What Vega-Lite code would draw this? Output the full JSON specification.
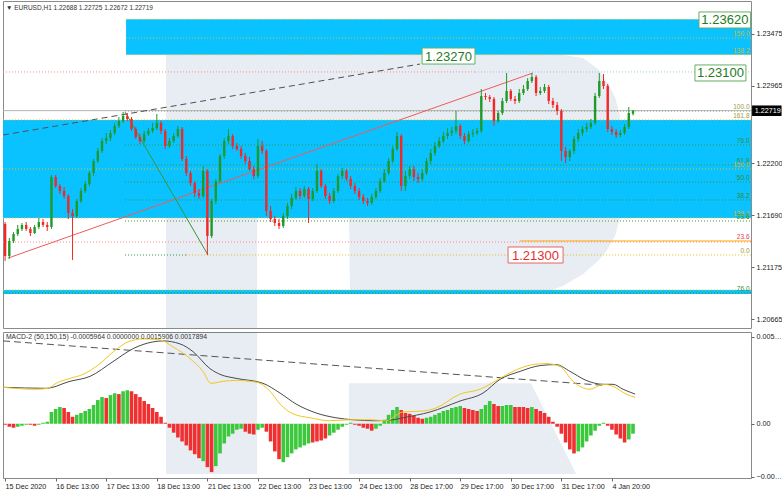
{
"$schema":"https://vega.github.io/schema/vega-lite/v6.json",
"background":"#ffffff",
"padding":0,
"spacing":2,
"config":{"scale":{"continuousPadding":0},"view":{"stroke":"#8a8a8a","strokeWidth":1},"axis":{"labelFont":"Liberation Sans, Roboto, Arial, sans-serif","labelFontSize":7.2,"labelColor":"#1a1a1a","tickColor":"#666666","domain":false,"grid":false},"text":{"font":"Liberation Sans, Roboto, Arial, sans-serif"}},
"datasets":{
"bands":[{"t0":58.4,"t1":355,"p0":1.2327,"p1":1.2362},{"t0":0,"t1":355,"p0":1.21662,"p1":1.22627},{"t0":0,"t1":355,"p0":1.20913,"p1":1.20952}],
"wmStem":[{"t0":77.4,"t1":120.6,"p0":1.20578,"p1":1.23267}],
"wmBowl":[{"t":120.6,"a":1.23267,"b":1.21662},{"t":164.2,"a":1.23267,"b":1.21662},{"t":164.7,"a":1.23267,"b":1.20923},{"t":256.3,"a":1.23267,"b":1.20923},{"t":265.8,"a":1.23267,"b":1.20992},{"t":275.3,"a":1.23238,"b":1.2111},{"t":282.4,"a":1.23129,"b":1.21238},{"t":287.1,"a":1.22991,"b":1.21356},{"t":290.5,"a":1.22853,"b":1.21484},{"t":292.8,"a":1.22666,"b":1.21662},{"t":293.8,"a":1.22223,"b":1.22125}],
"dots":[{"t0":58.4,"t1":355,"p":1.2362,"k":"y"},{"t0":58.4,"t1":355,"p":1.23435,"k":"y"},{"t0":58.4,"t1":355,"p":1.2327,"k":"y"},{"t0":0,"t1":355,"p":1.22627,"k":"y"},{"t0":0,"t1":355,"p":1.22144,"k":"y"},{"t0":0,"t1":355,"p":1.21662,"k":"y"},{"t0":86.9,"t1":355,"p":1.21297,"k":"y"},{"t0":0,"t1":355,"p":1.20952,"k":"y"},{"t0":57.9,"t1":355,"p":1.22716,"k":"g"},{"t0":57.9,"t1":355,"p":1.22381,"k":"g"},{"t0":57.9,"t1":355,"p":1.22184,"k":"g"},{"t0":57.9,"t1":355,"p":1.22016,"k":"g"},{"t0":57.9,"t1":355,"p":1.21839,"k":"g"},{"t0":57.9,"t1":355,"p":1.21632,"k":"g"},{"t0":57.9,"t1":86.9,"p":1.21297,"k":"g"},{"t0":0,"t1":355,"p":1.20923,"k":"g"},{"t0":0,"t1":224,"p":1.231,"k":"p"},{"t0":0,"t1":355,"p":1.21425,"k":"p"},{"t0":224,"t1":355,"p":1.231,"k":"b"}],
"solid":[{"t0":0,"t1":355,"p":1.22719,"k":"bid"},{"t0":245.4,"t1":355,"p":1.21435,"k":"or"}],
"trends":[{"t0":2.4,"p0":1.21267,"t1":251.5,"p1":1.2309,"k":"r"},{"t0":57.9,"p0":1.22706,"t1":97.3,"p1":1.21297,"k":"g"}],
"dashTrend":[{"t0":0,"p0":1.22479,"t1":197.9,"p1":1.23178}],
"candles":[
{"t":1,"o":1.21603,"h":1.21622,"l":1.21238,"c":1.21287},
{"t":3,"o":1.21287,"h":1.21465,"l":1.21258,"c":1.21435},
{"t":5,"o":1.21435,"h":1.21524,"l":1.21415,"c":1.21504},
{"t":7,"o":1.21504,"h":1.21593,"l":1.21484,"c":1.21553},
{"t":9,"o":1.21553,"h":1.21612,"l":1.21534,"c":1.21593},
{"t":11,"o":1.21593,"h":1.21622,"l":1.21534,"c":1.21553},
{"t":13,"o":1.21553,"h":1.21573,"l":1.21484,"c":1.21514},
{"t":15,"o":1.21514,"h":1.21593,"l":1.21504,"c":1.21573},
{"t":17,"o":1.21573,"h":1.21662,"l":1.21553,"c":1.21622},
{"t":19,"o":1.21622,"h":1.21652,"l":1.21573,"c":1.21593},
{"t":21,"o":1.21593,"h":1.21622,"l":1.21534,"c":1.21573},
{"t":23,"o":1.21573,"h":1.22085,"l":1.21553,"c":1.22065},
{"t":25,"o":1.22065,"h":1.22085,"l":1.21957,"c":1.21977},
{"t":27,"o":1.21977,"h":1.21996,"l":1.21898,"c":1.21928},
{"t":29,"o":1.21928,"h":1.21967,"l":1.21849,"c":1.21878},
{"t":31,"o":1.21878,"h":1.21898,"l":1.21652,"c":1.21711},
{"t":33,"o":1.21711,"h":1.2175,"l":1.21248,"c":1.21681},
{"t":35,"o":1.21681,"h":1.21849,"l":1.21662,"c":1.21829},
{"t":37,"o":1.21829,"h":1.21957,"l":1.21809,"c":1.21928},
{"t":39,"o":1.21928,"h":1.22026,"l":1.21908,"c":1.21996},
{"t":41,"o":1.21996,"h":1.22125,"l":1.21977,"c":1.22105},
{"t":43,"o":1.22105,"h":1.22243,"l":1.22075,"c":1.22223},
{"t":45,"o":1.22223,"h":1.22351,"l":1.22203,"c":1.22322},
{"t":47,"o":1.22322,"h":1.22449,"l":1.22302,"c":1.2242},
{"t":49,"o":1.2242,"h":1.22499,"l":1.2239,"c":1.22449},
{"t":51,"o":1.22449,"h":1.22528,"l":1.2242,"c":1.22499},
{"t":53,"o":1.22499,"h":1.22597,"l":1.22479,"c":1.22568},
{"t":55,"o":1.22568,"h":1.22656,"l":1.22548,"c":1.22617},
{"t":57,"o":1.22617,"h":1.22706,"l":1.22597,"c":1.22666},
{"t":59,"o":1.22666,"h":1.22696,"l":1.22617,"c":1.22637},
{"t":61,"o":1.22637,"h":1.22656,"l":1.22519,"c":1.22538},
{"t":63,"o":1.22538,"h":1.22558,"l":1.2244,"c":1.22459},
{"t":65,"o":1.22459,"h":1.22489,"l":1.2239,"c":1.2242},
{"t":67,"o":1.2242,"h":1.22519,"l":1.224,"c":1.22489},
{"t":69,"o":1.22489,"h":1.22548,"l":1.22469,"c":1.22519},
{"t":71,"o":1.22519,"h":1.22597,"l":1.22499,"c":1.22548},
{"t":73,"o":1.22548,"h":1.22686,"l":1.22528,"c":1.22597},
{"t":75,"o":1.22597,"h":1.22617,"l":1.22489,"c":1.22519},
{"t":77,"o":1.22519,"h":1.22538,"l":1.22341,"c":1.22371},
{"t":79,"o":1.22371,"h":1.22449,"l":1.22351,"c":1.2242},
{"t":81,"o":1.2242,"h":1.22499,"l":1.224,"c":1.22469},
{"t":83,"o":1.22469,"h":1.22568,"l":1.22449,"c":1.22538},
{"t":85,"o":1.22538,"h":1.22558,"l":1.22223,"c":1.22243},
{"t":87,"o":1.22243,"h":1.22272,"l":1.22075,"c":1.22105},
{"t":89,"o":1.22105,"h":1.22125,"l":1.21977,"c":1.22006},
{"t":91,"o":1.22006,"h":1.22026,"l":1.21868,"c":1.21908},
{"t":93,"o":1.21908,"h":1.21947,"l":1.21849,"c":1.21878},
{"t":95,"o":1.21878,"h":1.22174,"l":1.21859,"c":1.22125},
{"t":97,"o":1.22125,"h":1.22144,"l":1.21297,"c":1.21484},
{"t":99,"o":1.21484,"h":1.21849,"l":1.21465,"c":1.21829},
{"t":101,"o":1.21829,"h":1.22046,"l":1.21799,"c":1.22026},
{"t":103,"o":1.22026,"h":1.22292,"l":1.22006,"c":1.22272},
{"t":105,"o":1.22272,"h":1.22449,"l":1.22243,"c":1.2242},
{"t":107,"o":1.2242,"h":1.22538,"l":1.2239,"c":1.22469},
{"t":109,"o":1.22469,"h":1.22489,"l":1.22341,"c":1.22371},
{"t":111,"o":1.22371,"h":1.224,"l":1.22322,"c":1.22341},
{"t":113,"o":1.22341,"h":1.22371,"l":1.22243,"c":1.22272},
{"t":115,"o":1.22272,"h":1.22302,"l":1.22193,"c":1.22223},
{"t":117,"o":1.22223,"h":1.22263,"l":1.22125,"c":1.22144},
{"t":119,"o":1.22144,"h":1.22174,"l":1.22046,"c":1.22075},
{"t":121,"o":1.22075,"h":1.2244,"l":1.22055,"c":1.22371},
{"t":123,"o":1.22371,"h":1.2242,"l":1.22292,"c":1.22322},
{"t":125,"o":1.22322,"h":1.22341,"l":1.21681,"c":1.21731},
{"t":127,"o":1.21731,"h":1.2178,"l":1.21622,"c":1.21652},
{"t":129,"o":1.21652,"h":1.21681,"l":1.21583,"c":1.21612},
{"t":131,"o":1.21612,"h":1.21652,"l":1.21553,"c":1.21583},
{"t":133,"o":1.21583,"h":1.21711,"l":1.21563,"c":1.21681},
{"t":135,"o":1.21681,"h":1.21809,"l":1.21652,"c":1.2178},
{"t":137,"o":1.2178,"h":1.21898,"l":1.2175,"c":1.21859},
{"t":139,"o":1.21859,"h":1.21967,"l":1.21839,"c":1.21928},
{"t":141,"o":1.21928,"h":1.21957,"l":1.21849,"c":1.21878},
{"t":143,"o":1.21878,"h":1.21977,"l":1.21859,"c":1.21947},
{"t":145,"o":1.21947,"h":1.21967,"l":1.21612,"c":1.21849},
{"t":147,"o":1.21849,"h":1.21957,"l":1.21829,"c":1.21928},
{"t":149,"o":1.21928,"h":1.22193,"l":1.21908,"c":1.22125},
{"t":151,"o":1.22125,"h":1.22144,"l":1.21957,"c":1.21977},
{"t":153,"o":1.21977,"h":1.21996,"l":1.21849,"c":1.21878},
{"t":155,"o":1.21878,"h":1.21908,"l":1.21799,"c":1.21829},
{"t":157,"o":1.21829,"h":1.21957,"l":1.21809,"c":1.21928},
{"t":159,"o":1.21928,"h":1.22095,"l":1.21908,"c":1.22075},
{"t":161,"o":1.22075,"h":1.22154,"l":1.22046,"c":1.22125},
{"t":163,"o":1.22125,"h":1.22144,"l":1.22026,"c":1.22046},
{"t":165,"o":1.22046,"h":1.22075,"l":1.21947,"c":1.21977},
{"t":167,"o":1.21977,"h":1.22006,"l":1.21898,"c":1.21928},
{"t":169,"o":1.21928,"h":1.21957,"l":1.21839,"c":1.21868},
{"t":171,"o":1.21868,"h":1.21898,"l":1.21799,"c":1.21829},
{"t":173,"o":1.21829,"h":1.21859,"l":1.2178,"c":1.21809},
{"t":175,"o":1.21809,"h":1.21898,"l":1.2179,"c":1.21868},
{"t":177,"o":1.21868,"h":1.21957,"l":1.21849,"c":1.21928},
{"t":179,"o":1.21928,"h":1.22055,"l":1.21908,"c":1.22026},
{"t":181,"o":1.22026,"h":1.22144,"l":1.22006,"c":1.22105},
{"t":183,"o":1.22105,"h":1.22253,"l":1.22085,"c":1.22223},
{"t":185,"o":1.22223,"h":1.22371,"l":1.22203,"c":1.22341},
{"t":187,"o":1.22341,"h":1.22509,"l":1.22322,"c":1.22469},
{"t":189,"o":1.22469,"h":1.22489,"l":1.21928,"c":1.21977},
{"t":191,"o":1.21977,"h":1.22125,"l":1.21928,"c":1.22075},
{"t":193,"o":1.22075,"h":1.22174,"l":1.22046,"c":1.22144},
{"t":195,"o":1.22144,"h":1.22174,"l":1.22026,"c":1.22065},
{"t":197,"o":1.22065,"h":1.22105,"l":1.22006,"c":1.22046},
{"t":199,"o":1.22046,"h":1.22144,"l":1.22026,"c":1.22105},
{"t":201,"o":1.22105,"h":1.22253,"l":1.22085,"c":1.22223},
{"t":203,"o":1.22223,"h":1.22341,"l":1.22193,"c":1.22302},
{"t":205,"o":1.22302,"h":1.2241,"l":1.22272,"c":1.22371},
{"t":207,"o":1.22371,"h":1.22459,"l":1.22351,"c":1.2242},
{"t":209,"o":1.2242,"h":1.22509,"l":1.224,"c":1.22469},
{"t":211,"o":1.22469,"h":1.22548,"l":1.2244,"c":1.22499},
{"t":213,"o":1.22499,"h":1.22558,"l":1.22469,"c":1.22519},
{"t":215,"o":1.22519,"h":1.22716,"l":1.22489,"c":1.22568},
{"t":217,"o":1.22568,"h":1.22588,"l":1.2244,"c":1.22469},
{"t":219,"o":1.22469,"h":1.22499,"l":1.2239,"c":1.2242},
{"t":221,"o":1.2242,"h":1.22519,"l":1.224,"c":1.22489},
{"t":223,"o":1.22489,"h":1.22538,"l":1.22459,"c":1.22499},
{"t":225,"o":1.22499,"h":1.22548,"l":1.22479,"c":1.22519},
{"t":227,"o":1.22519,"h":1.22932,"l":1.22499,"c":1.22863},
{"t":229,"o":1.22863,"h":1.22893,"l":1.22824,"c":1.22853},
{"t":231,"o":1.22853,"h":1.22873,"l":1.22804,"c":1.22834},
{"t":233,"o":1.22834,"h":1.22853,"l":1.22568,"c":1.22617},
{"t":235,"o":1.22617,"h":1.22716,"l":1.22597,"c":1.22696},
{"t":237,"o":1.22696,"h":1.22844,"l":1.22676,"c":1.22814},
{"t":239,"o":1.22814,"h":1.2309,"l":1.22794,"c":1.22913},
{"t":241,"o":1.22913,"h":1.22932,"l":1.22814,"c":1.22834},
{"t":243,"o":1.22834,"h":1.22863,"l":1.22784,"c":1.22814},
{"t":245,"o":1.22814,"h":1.22932,"l":1.22794,"c":1.22893},
{"t":247,"o":1.22893,"h":1.22972,"l":1.22873,"c":1.22932},
{"t":249,"o":1.22932,"h":1.2304,"l":1.22913,"c":1.23011},
{"t":251,"o":1.23011,"h":1.2309,"l":1.22991,"c":1.2305},
{"t":253,"o":1.2305,"h":1.2307,"l":1.22863,"c":1.22893},
{"t":255,"o":1.22893,"h":1.22952,"l":1.22873,"c":1.22913},
{"t":257,"o":1.22913,"h":1.22982,"l":1.22893,"c":1.22952},
{"t":259,"o":1.22952,"h":1.22972,"l":1.22784,"c":1.22814},
{"t":261,"o":1.22814,"h":1.22844,"l":1.22745,"c":1.22775},
{"t":263,"o":1.22775,"h":1.22804,"l":1.22676,"c":1.22716},
{"t":265,"o":1.22716,"h":1.22735,"l":1.22223,"c":1.22322},
{"t":267,"o":1.22322,"h":1.22361,"l":1.22203,"c":1.22263},
{"t":269,"o":1.22263,"h":1.22341,"l":1.22223,"c":1.22322},
{"t":271,"o":1.22322,"h":1.22469,"l":1.22292,"c":1.2244},
{"t":273,"o":1.2244,"h":1.22538,"l":1.2241,"c":1.22499},
{"t":275,"o":1.22499,"h":1.22568,"l":1.22469,"c":1.22538},
{"t":277,"o":1.22538,"h":1.22597,"l":1.22509,"c":1.22558},
{"t":279,"o":1.22558,"h":1.22637,"l":1.22538,"c":1.22597},
{"t":281,"o":1.22597,"h":1.22893,"l":1.22578,"c":1.22863},
{"t":283,"o":1.22863,"h":1.2309,"l":1.22844,"c":1.23011},
{"t":285,"o":1.23011,"h":1.2308,"l":1.22932,"c":1.22962},
{"t":287,"o":1.22962,"h":1.22982,"l":1.22509,"c":1.22538},
{"t":289,"o":1.22538,"h":1.22568,"l":1.22479,"c":1.22509},
{"t":291,"o":1.22509,"h":1.22538,"l":1.22449,"c":1.22479},
{"t":293,"o":1.22479,"h":1.22528,"l":1.22459,"c":1.22499},
{"t":295,"o":1.22499,"h":1.22588,"l":1.22479,"c":1.22558},
{"t":297,"o":1.22558,"h":1.22755,"l":1.22538,"c":1.22696},
{"t":299,"o":1.22688,"h":1.22725,"l":1.22672,"c":1.22719}
],
"fibLabels":[{"p":1.23435,"s":"150.0","k":"y"},{"p":1.2327,"s":"138.2","k":"y"},{"p":1.22716,"s":"100.0","k":"o"},{"p":1.22627,"s":"161.8","k":"o"},{"p":1.22381,"s":"76.0","k":"g"},{"p":1.22184,"s":"61.8","k":"g"},{"p":1.22144,"s":"150.0","k":"y"},{"p":1.22016,"s":"50.0","k":"g"},{"p":1.21839,"s":"38.2","k":"g"},{"p":1.21662,"s":"138.2","k":"y"},{"p":1.21632,"s":"23.6","k":"g"},{"p":1.21435,"s":"23.6","k":"r"},{"p":1.21297,"s":"0.0","k":"o"},{"p":1.20923,"s":"76.0","k":"g"}],
"boxes":[{"t0":330.3,"t1":354.8,"p0":1.23533,"p1":1.23691,"tc":342.6,"p":1.23612,"s":"1.23620","k":"g"},{"t0":328.4,"t1":352.6,"p0":1.23011,"p1":1.23169,"tc":340.5,"p":1.2309,"s":"1.23100","k":"g"},{"t0":198.9,"t1":224,"p0":1.23178,"p1":1.23336,"tc":211.4,"p":1.23257,"s":"1.23270","k":"g"},{"t0":239.7,"t1":265.8,"p0":1.21218,"p1":1.21376,"tc":252.7,"p":1.21297,"s":"1.21300","k":"r"}],
"lastPrice":[{"t0":355.5,"t1":369.5,"p0":1.22666,"p1":1.2277,"tx":356.8,"p":1.22719,"s":"1.22719"}],
"title":[{"t":1.4,"p":1.2373,"s":"▼ EURUSD,H1  1.22688 1.22725 1.22672 1.22719"}],
"mStem":[{"t0":77.4,"t1":120.6,"v0":-0.00304,"v1":0.005537}],
"mLeg":[{"t":164.2,"a":0.00244,"b":-0.00304},{"t":250.6,"a":0.00244,"b":-0.00304},{"t":272,"a":-0.00304,"b":-0.00304}],
"hist":[
{"t":1,"v":-0.00006,"d":"r"},{"t":3,"v":-0.00018,"d":"r"},{"t":5,"v":-0.00024,"d":"r"},{"t":7,"v":-0.00018,"d":"g"},{"t":9,"v":-0.00012,"d":"g"},{"t":11,"v":-0.00006,"d":"g"},{"t":13,"v":-0.00006,"d":"r"},{"t":15,"v":-0.00012,"d":"r"},{"t":17,"v":-0.00006,"d":"g"},{"t":19,"v":0.00006,"d":"g"},
{"t":21,"v":0.00012,"d":"g"},{"t":23,"v":0.00071,"d":"g"},{"t":25,"v":0.00089,"d":"g"},{"t":27,"v":0.00101,"d":"g"},{"t":29,"v":0.00095,"d":"r"},{"t":31,"v":0.00071,"d":"r"},{"t":33,"v":0.00042,"d":"r"},{"t":35,"v":0.00054,"d":"g"},{"t":37,"v":0.00065,"d":"g"},{"t":39,"v":0.00077,"d":"g"},
{"t":41,"v":0.00089,"d":"g"},{"t":43,"v":0.00113,"d":"g"},{"t":45,"v":0.00143,"d":"g"},{"t":47,"v":0.00161,"d":"g"},{"t":49,"v":0.00155,"d":"r"},{"t":51,"v":0.00173,"d":"g"},{"t":53,"v":0.00184,"d":"g"},{"t":55,"v":0.00179,"d":"r"},{"t":57,"v":0.00196,"d":"g"},{"t":59,"v":0.00202,"d":"g"},
{"t":61,"v":0.00196,"d":"r"},{"t":63,"v":0.00179,"d":"r"},{"t":65,"v":0.00161,"d":"r"},{"t":67,"v":0.00137,"d":"r"},{"t":69,"v":0.00119,"d":"r"},{"t":71,"v":0.00095,"d":"r"},{"t":73,"v":0.00071,"d":"r"},{"t":75,"v":0.00042,"d":"r"},{"t":77,"v":0.00006,"d":"r"},{"t":79,"v":-0.00024,"d":"r"},
{"t":81,"v":-0.00054,"d":"r"},{"t":83,"v":-0.00083,"d":"r"},{"t":85,"v":-0.00107,"d":"r"},{"t":87,"v":-0.00131,"d":"r"},{"t":89,"v":-0.00161,"d":"r"},{"t":91,"v":-0.00184,"d":"r"},{"t":93,"v":-0.00208,"d":"r"},{"t":95,"v":-0.00226,"d":"g"},{"t":97,"v":-0.00262,"d":"r"},{"t":99,"v":-0.00292,"d":"r"},
{"t":101,"v":-0.00256,"d":"g"},{"t":103,"v":-0.00179,"d":"g"},{"t":105,"v":-0.00119,"d":"g"},{"t":107,"v":-0.00077,"d":"g"},{"t":109,"v":-0.0006,"d":"g"},{"t":111,"v":-0.00036,"d":"g"},{"t":113,"v":-0.0003,"d":"g"},{"t":115,"v":-0.00048,"d":"r"},{"t":117,"v":-0.0006,"d":"r"},{"t":119,"v":-0.00065,"d":"r"},
{"t":121,"v":-0.00036,"d":"g"},{"t":123,"v":-0.00024,"d":"g"},{"t":125,"v":-0.00048,"d":"r"},{"t":127,"v":-0.00107,"d":"r"},{"t":129,"v":-0.00167,"d":"r"},{"t":131,"v":-0.00214,"d":"r"},{"t":133,"v":-0.00232,"d":"g"},{"t":135,"v":-0.00202,"d":"g"},{"t":137,"v":-0.00179,"d":"g"},{"t":139,"v":-0.00155,"d":"g"},
{"t":141,"v":-0.00143,"d":"g"},{"t":143,"v":-0.00131,"d":"g"},{"t":145,"v":-0.00119,"d":"g"},{"t":147,"v":-0.00113,"d":"r"},{"t":149,"v":-0.00107,"d":"r"},{"t":151,"v":-0.00101,"d":"r"},{"t":153,"v":-0.00089,"d":"r"},{"t":155,"v":-0.00071,"d":"g"},{"t":157,"v":-0.00054,"d":"g"},{"t":159,"v":-0.00036,"d":"g"},
{"t":161,"v":-0.00018,"d":"g"},{"t":163,"v":-0.00006,"d":"g"},{"t":165,"v":0.00006,"d":"g"},{"t":167,"v":-0.00006,"d":"r"},{"t":169,"v":-0.00012,"d":"r"},{"t":171,"v":-0.00024,"d":"r"},{"t":173,"v":-0.0003,"d":"r"},{"t":175,"v":-0.00042,"d":"r"},{"t":177,"v":-0.0003,"d":"g"},{"t":179,"v":-0.00012,"d":"g"},
{"t":181,"v":0.00024,"d":"g"},{"t":183,"v":0.00054,"d":"g"},{"t":185,"v":0.00083,"d":"g"},{"t":187,"v":0.00101,"d":"g"},{"t":189,"v":0.00083,"d":"r"},{"t":191,"v":0.00065,"d":"r"},{"t":193,"v":0.0006,"d":"r"},{"t":195,"v":0.00048,"d":"r"},{"t":197,"v":0.00036,"d":"r"},{"t":199,"v":0.0003,"d":"r"},
{"t":201,"v":0.00036,"d":"g"},{"t":203,"v":0.00042,"d":"g"},{"t":205,"v":0.00054,"d":"g"},{"t":207,"v":0.00065,"d":"g"},{"t":209,"v":0.00077,"d":"g"},{"t":211,"v":0.00083,"d":"g"},{"t":213,"v":0.00095,"d":"g"},{"t":215,"v":0.00101,"d":"g"},{"t":217,"v":0.00107,"d":"g"},{"t":219,"v":0.00095,"d":"r"},
{"t":221,"v":0.00089,"d":"r"},{"t":223,"v":0.00083,"d":"r"},{"t":225,"v":0.00077,"d":"r"},{"t":227,"v":0.00089,"d":"g"},{"t":229,"v":0.00113,"d":"g"},{"t":231,"v":0.00137,"d":"g"},{"t":233,"v":0.00119,"d":"r"},{"t":235,"v":0.00107,"d":"r"},{"t":237,"v":0.00107,"d":"g"},{"t":239,"v":0.00113,"d":"g"},
{"t":241,"v":0.00113,"d":"g"},{"t":243,"v":0.00101,"d":"r"},{"t":245,"v":0.00101,"d":"r"},{"t":247,"v":0.00101,"d":"r"},{"t":249,"v":0.00095,"d":"r"},{"t":251,"v":0.00101,"d":"g"},{"t":253,"v":0.00089,"d":"r"},{"t":255,"v":0.00077,"d":"r"},{"t":257,"v":0.00065,"d":"r"},{"t":259,"v":0.00042,"d":"r"},
{"t":261,"v":0.00012,"d":"r"},{"t":263,"v":-0.00018,"d":"r"},{"t":265,"v":-0.0006,"d":"r"},{"t":267,"v":-0.00113,"d":"r"},{"t":269,"v":-0.00155,"d":"r"},{"t":271,"v":-0.00179,"d":"r"},{"t":273,"v":-0.00167,"d":"g"},{"t":275,"v":-0.00143,"d":"g"},{"t":277,"v":-0.00107,"d":"g"},{"t":279,"v":-0.00071,"d":"g"},
{"t":281,"v":-0.00042,"d":"g"},{"t":283,"v":-0.00012,"d":"g"},{"t":285,"v":0.00006,"d":"g"},{"t":287,"v":-0.00012,"d":"r"},{"t":289,"v":-0.00036,"d":"r"},{"t":291,"v":-0.00065,"d":"r"},{"t":293,"v":-0.00089,"d":"r"},{"t":295,"v":-0.00113,"d":"r"},{"t":297,"v":-0.00095,"d":"g"},{"t":299,"v":-0.0006,"d":"g"}
],
"mline":[{"t":0,"v":0.0022},{"t":20.4,"v":0.00214},{"t":31.8,"v":0.00256},{"t":41.3,"v":0.00286},{"t":52.2,"v":0.00375},{"t":61.7,"v":0.00453},{"t":71.2,"v":0.00494},{"t":75.9,"v":0.005},{"t":84,"v":0.00482},{"t":90.2,"v":0.00435},{"t":98.2,"v":0.00333},{"t":103,"v":0.00298},{"t":110.6,"v":0.00274},{"t":123.4,"v":0.00244},{"t":131.5,"v":0.00185},{"t":139.1,"v":0.00119},{"t":148.6,"v":0.00065},{"t":158,"v":0.00036},{"t":166.1,"v":0.00024},{"t":177,"v":0.00018},{"t":185.1,"v":0.00024},{"t":189.8,"v":0.00036},{"t":202.7,"v":0.00071},{"t":216.9,"v":0.00137},{"t":227.8,"v":0.00185},{"t":235.9,"v":0.00268},{"t":245.4,"v":0.00316},{"t":254.9,"v":0.00351},{"t":262.5,"v":0.00357},{"t":269.1,"v":0.00316},{"t":276.7,"v":0.00262},{"t":284.8,"v":0.00238},{"t":289.5,"v":0.00238},{"t":294.3,"v":0.00208},{"t":300,"v":0.00179}],
"sline":[{"t":0,"v":0.0022},{"t":15.7,"v":0.00208},{"t":21.4,"v":0.00214},{"t":25.2,"v":0.00244},{"t":31.8,"v":0.00274},{"t":38,"v":0.00298},{"t":46,"v":0.00363},{"t":53.6,"v":0.00447},{"t":59.3,"v":0.00494},{"t":66.4,"v":0.00512},{"t":74.5,"v":0.00506},{"t":80.7,"v":0.00464},{"t":88.8,"v":0.00393},{"t":94.9,"v":0.00316},{"t":98.7,"v":0.00244},{"t":104.4,"v":0.00256},{"t":110.6,"v":0.00262},{"t":117.2,"v":0.00256},{"t":122,"v":0.00244},{"t":126.7,"v":0.00196},{"t":131.5,"v":0.00119},{"t":137.6,"v":0.0006},{"t":145.7,"v":0.00036},{"t":155.2,"v":0.00018},{"t":164.7,"v":0.00024},{"t":174.2,"v":0.00024},{"t":181.8,"v":0.00018},{"t":189.8,"v":0.00071},{"t":199.3,"v":0.00077},{"t":205.5,"v":0.00095},{"t":216.9,"v":0.00179},{"t":226.4,"v":0.00208},{"t":235.9,"v":0.00274},{"t":242,"v":0.00316},{"t":251.5,"v":0.00357},{"t":257.7,"v":0.00363},{"t":264.4,"v":0.00345},{"t":270.5,"v":0.00256},{"t":278.6,"v":0.00208},{"t":284.8,"v":0.00238},{"t":289.5,"v":0.00226},{"t":295.7,"v":0.00179},{"t":300,"v":0.00159}],
"mdash":[{"t0":0,"v0":0.005,"t1":284.8,"v1":0.00232}],
"mtitle":[{"t":1.4,"v":0.00524,"s":"MACD-2 (50,150,15) -0.0005964 0.0000000 0.0015906 0.0017894"}]
},
"vconcat":[
{"width":748,"height":327,
"layer":[
{"data":{"name":"wmStem"},"mark":{"type":"rect","color":"#194187","opacity":0.1},
 "encoding":{"x":{"field":"t0","type":"quantitative","scale":{"domain":[0,355],"nice":false,"zero":false,"padding":0},"axis":null},"x2":{"field":"t1"},
 "y":{"field":"p0","type":"quantitative","scale":{"domain":[1.20578,1.23799],"nice":false,"zero":false,"padding":0},"axis":{"orient":"right","values":[1.2373,1.23475,1.2322,1.22965,1.22455,1.222,1.21945,1.2169,1.2143,1.21175,1.2092,1.20665],"format":".5f","labelLimit":27,"tickSize":3,"labelPadding":2,"title":null}},"y2":{"field":"p1"}}},
{"data":{"name":"wmBowl"},"mark":{"type":"area","color":"#194187","opacity":0.1},
 "encoding":{"x":{"field":"t","type":"quantitative"},"y":{"field":"a","type":"quantitative"},"y2":{"field":"b"}}},
{"data":{"name":"bands"},"mark":{"type":"rect","color":"#00bfff","opacity":0.96},
 "encoding":{"x":{"field":"t0","type":"quantitative"},"x2":{"field":"t1"},"y":{"field":"p0","type":"quantitative"},"y2":{"field":"p1"}}},
{"data":{"name":"dots"},"mark":{"type":"rule","strokeDash":[1,2],"strokeWidth":1},
 "encoding":{"x":{"field":"t0","type":"quantitative"},"x2":{"field":"t1"},"y":{"field":"p","type":"quantitative"},
 "color":{"condition":[{"test":"datum.k==='g'","value":"#3a963a"},{"test":"datum.k==='p'","value":"#ff8a8a"},{"test":"datum.k==='b'","value":"#9cc4dc"}],"value":"#e0c21c"}}},
{"data":{"name":"solid"},"mark":{"type":"rule","strokeWidth":1},
 "encoding":{"x":{"field":"t0","type":"quantitative"},"x2":{"field":"t1"},"y":{"field":"p","type":"quantitative"},
 "color":{"condition":{"test":"datum.k==='or'","value":"#ffa500"},"value":"#b4b4b4"}}},
{"data":{"name":"trends"},"mark":{"type":"rule","strokeWidth":1},
 "encoding":{"x":{"field":"t0","type":"quantitative"},"x2":{"field":"t1"},"y":{"field":"p0","type":"quantitative"},"y2":{"field":"p1"},
 "color":{"condition":{"test":"datum.k==='g'","value":"#3a963a"},"value":"#f05a5a"}}},
{"data":{"name":"dashTrend"},"mark":{"type":"rule","strokeWidth":1,"strokeDash":[6,4],"color":"#505050"},
 "encoding":{"x":{"field":"t0","type":"quantitative"},"x2":{"field":"t1"},"y":{"field":"p0","type":"quantitative"},"y2":{"field":"p1"}}},
{"data":{"name":"candles"},"mark":{"type":"rule","strokeWidth":1},
 "encoding":{"x":{"field":"t","type":"quantitative"},"y":{"field":"l","type":"quantitative"},"y2":{"field":"h"},
 "color":{"condition":{"test":"datum.c >= datum.o","value":"#1f9a2a"},"value":"#f02828"}}},
{"data":{"name":"candles"},"mark":{"type":"bar","width":2.4},
 "encoding":{"x":{"field":"t","type":"quantitative"},"y":{"field":"o","type":"quantitative"},"y2":{"field":"c"},
 "color":{"condition":{"test":"datum.c >= datum.o","value":"#1f9a2a"},"value":"#f02828"}}},
{"data":{"name":"fibLabels"},"mark":{"type":"text","align":"right","baseline":"alphabetic","dy":-2,"fontSize":6.5},
 "encoding":{"x":{"datum":354.3,"type":"quantitative"},"y":{"field":"p","type":"quantitative"},"text":{"field":"s"},
 "color":{"condition":[{"test":"datum.k==='g'","value":"#2f8f2f"},{"test":"datum.k==='o'","value":"#9c9c35"},{"test":"datum.k==='r'","value":"#e84040"}],"value":"#cdb82e"}}},
{"data":{"name":"boxes"},"mark":{"type":"rect","fill":"#ffffff","strokeWidth":1},
 "encoding":{"x":{"field":"t0","type":"quantitative"},"x2":{"field":"t1"},"y":{"field":"p0","type":"quantitative"},"y2":{"field":"p1"},
 "stroke":{"condition":{"test":"datum.k==='r'","value":"#e86464"},"value":"#62b062"}}},
{"data":{"name":"boxes"},"mark":{"type":"text","align":"center","baseline":"middle","fontSize":13,"dy":0.5},
 "encoding":{"x":{"field":"tc","type":"quantitative"},"y":{"field":"p","type":"quantitative"},"text":{"field":"s"},
 "color":{"condition":{"test":"datum.k==='r'","value":"#e03030"},"value":"#1e7b1e"}}},
{"data":{"name":"title"},"mark":{"type":"text","align":"left","baseline":"middle","fontSize":6.5,"color":"#333333"},
 "encoding":{"x":{"field":"t","type":"quantitative"},"y":{"field":"p","type":"quantitative"},"text":{"field":"s"}}},
{"data":{"name":"lastPrice"},"mark":{"type":"rect","color":"#000000"},
 "encoding":{"x":{"field":"t0","type":"quantitative"},"x2":{"field":"t1"},"y":{"field":"p0","type":"quantitative"},"y2":{"field":"p1"}}},
{"data":{"name":"lastPrice"},"mark":{"type":"text","align":"left","baseline":"middle","fontSize":7.2,"color":"#ffffff"},
 "encoding":{"x":{"field":"tx","type":"quantitative"},"y":{"field":"p","type":"quantitative"},"text":{"field":"s"}}}
]},
{"width":748,"height":146,
"layer":[
{"data":{"name":"mStem"},"mark":{"type":"rect","color":"#194187","opacity":0.1},
 "encoding":{"x":{"field":"t0","type":"quantitative","scale":{"domain":[0,355],"nice":false,"zero":false,"padding":0},"axis":{"values":[1,25,49,73,97,121,145,169,193,217,241,265,289],"labelExpr":"['15 Dec 2020','16 Dec 13:00','17 Dec 13:00','18 Dec 13:00','21 Dec 13:00','22 Dec 13:00','23 Dec 13:00','24 Dec 13:00','28 Dec 17:00','29 Dec 17:00','30 Dec 17:00','31 Dec 17:00','4 Jan 20:00'][round((datum.value-1)/24)]","labelAlign":"left","labelPadding":1,"tickSize":3,"labelFlush":false,"labelOverlap":false,"title":null}},"x2":{"field":"t1"},
 "y":{"field":"v0","type":"quantitative","scale":{"domain":[-0.003275,0.005537],"nice":false,"zero":false,"padding":0},"axis":{"orient":"right","values":[0.0052397,0,-0.0032078],"labelExpr":"datum.value===0?'0.00':format(datum.value,'.7f')","labelLimit":27,"tickSize":3,"labelPadding":2,"title":null}},"y2":{"field":"v1"}}},
{"data":{"name":"mLeg"},"mark":{"type":"area","color":"#194187","opacity":0.1},
 "encoding":{"x":{"field":"t","type":"quantitative"},"y":{"field":"a","type":"quantitative"},"y2":{"field":"b"}}},
{"data":{"name":"hist"},"mark":{"type":"bar","width":3.6},
 "encoding":{"x":{"field":"t","type":"quantitative"},"y":{"field":"v","type":"quantitative"},"y2":{"datum":0},
 "color":{"condition":{"test":"datum.d==='g'","value":"#3cc83c"},"value":"#f03030"}}},
{"data":{"name":"mdash"},"mark":{"type":"rule","strokeWidth":1,"strokeDash":[7,4],"color":"#555555"},
 "encoding":{"x":{"field":"t0","type":"quantitative"},"x2":{"field":"t1"},"y":{"field":"v0","type":"quantitative"},"y2":{"field":"v1"}}},
{"data":{"name":"mline"},"mark":{"type":"line","strokeWidth":1,"color":"#4a4a4a","interpolate":"monotone"},
 "encoding":{"x":{"field":"t","type":"quantitative"},"y":{"field":"v","type":"quantitative"}}},
{"data":{"name":"sline"},"mark":{"type":"line","strokeWidth":1,"color":"#f2c81e","interpolate":"monotone"},
 "encoding":{"x":{"field":"t","type":"quantitative"},"y":{"field":"v","type":"quantitative"}}},
{"data":{"name":"mtitle"},"mark":{"type":"text","align":"left","baseline":"middle","fontSize":6.8,"color":"#333333"},
 "encoding":{"x":{"field":"t","type":"quantitative"},"y":{"field":"v","type":"quantitative"},"text":{"field":"s"}}}
]}
]
}
